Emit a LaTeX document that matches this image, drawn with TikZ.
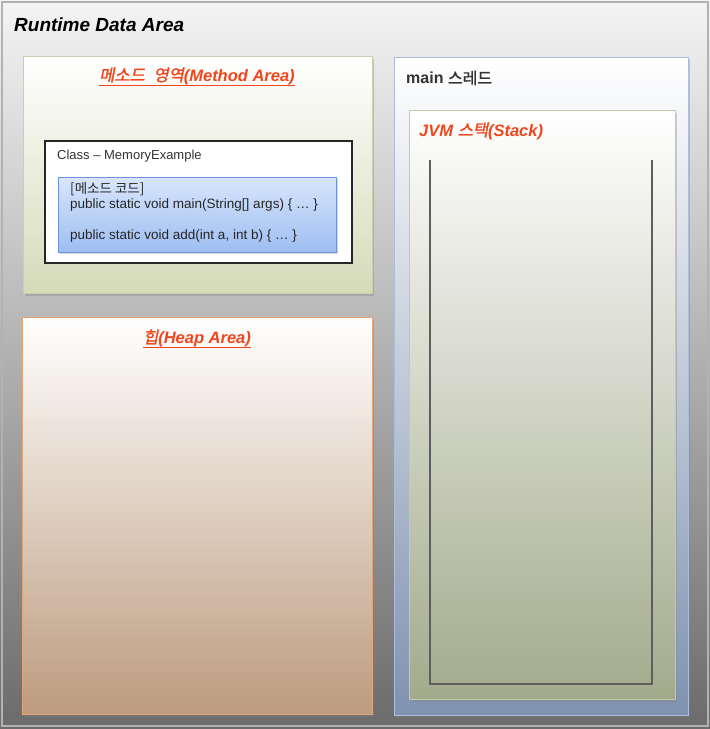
\documentclass[tikz,border=0pt]{standalone}
\usepackage{fontspec}
\setmainfont{Liberation Sans}
\newfontfamily\kr{Noto Sans CJK KR}[AutoFakeSlant=0.2,AutoFakeBold=1.5]
\usetikzlibrary{shadows}
\definecolor{bgtop}{HTML}{F4F4F4}
\definecolor{bgmid}{HTML}{CDCDCD}
\definecolor{bgbot}{HTML}{6B6B6B}
\definecolor{titlered}{HTML}{F0461E}
\definecolor{olivebot}{HTML}{D4DBB8}
\definecolor{oliveline}{HTML}{C9D0AC}
\definecolor{heapmid}{HTML}{F1E2D6}
\definecolor{heapbot}{HTML}{BC9B7E}
\definecolor{heapline}{HTML}{E7A272}
\definecolor{mainmid}{HTML}{E4EAF3}
\definecolor{mainbot}{HTML}{7F92B0}
\definecolor{mainline}{HTML}{A9BEDC}
\definecolor{jvmmid}{HTML}{DDE1CD}
\definecolor{jvmbot}{HTML}{A3AA8C}
\definecolor{jvmline}{HTML}{C4C9A6}
\definecolor{codetop}{HTML}{D8E6FC}
\definecolor{codebot}{HTML}{9DBDF1}
\definecolor{codeline}{HTML}{6E93D6}
\definecolor{ushape}{HTML}{5E5E5E}
\tikzset{
  area/.style={rectangle, anchor=north west, inner sep=0pt, line width=1.2pt,
    drop shadow={opacity=0.35, shadow xshift=1.5pt, shadow yshift=-2pt}},
  redtitle/.style={text=titlered, inner sep=0pt, font=\fontsize{16.5}{18}\selectfont\bfseries\itshape},
  codetext/.style={inner sep=0pt, anchor=north west, align=left, text=black!85,
    font=\fontsize{13.5}{15.5}\selectfont},
}
\begin{document}
\begin{tikzpicture}[x=1pt,y=-1pt]
\useasboundingbox (0,0) rectangle (710,729);
% background
\shade[top color=bgtop, middle color=bgmid, bottom color=bgbot] (0,0) rectangle (710,729);
\draw[gray!60, line width=1.5pt] (2,2) rectangle (708,726);
\node[anchor=west, inner sep=0pt, font=\fontsize{19}{21}\selectfont\bfseries\itshape] (rda) at (14,25) {Runtime Data Area};

% Method area
\node[area, draw=oliveline, top color=white, bottom color=olivebot,
  minimum width=349pt, minimum height=237pt] (method) at (23,56) {};
\node[redtitle] (methodt) at (197,76) {{\kr 메소드\hspace{5pt} 영역}(Method Area)};
\draw[titlered, line width=0.8pt] ([yshift=-1pt]methodt.south west) -- ([yshift=-1pt]methodt.south east);

% Class box
\node[rectangle, anchor=north west, inner sep=0pt, draw=black!85, line width=1.6pt, fill=white,
  minimum width=307pt, minimum height=122pt] (class) at (44,140) {};
\node[anchor=west, inner sep=0pt, text=black!80, font=\fontsize{13}{15}\selectfont] (classt) at (57,156) {Class – MemoryExample};

% Code box
\node[rectangle, anchor=north west, inner sep=0pt, draw=codeline, line width=1pt,
  top color=codetop, bottom color=codebot,
  drop shadow={opacity=0.3, shadow xshift=1pt, shadow yshift=-1.5pt},
  minimum width=278pt, minimum height=75pt] (code) at (58,177) {};
\node[codetext] (codet) at (70,182) {{\kr [메소드 코드]}\\public static void main(String[] args) \{ … \}\\[15.5pt]public static void add(int a, int b) \{ … \}};

% Heap
\node[area, draw=heapline, top color=white, middle color=heapmid, bottom color=heapbot,
  minimum width=350pt, minimum height=397pt] (heap) at (22,317) {};
\node[redtitle] (heapt) at (197,338) {{\kr 힙}(Heap Area)};
\draw[titlered, line width=0.8pt] ([yshift=-1pt]heapt.south west) -- ([yshift=-1pt]heapt.south east);

% main thread
\node[area, draw=mainline, top color=white, middle color=mainmid, bottom color=mainbot,
  minimum width=294pt, minimum height=658pt] (main) at (394,57) {};
\node[anchor=west, inner sep=0pt, text=black!80, font=\fontsize{16}{18}\selectfont\bfseries] (maint) at (406,78) {main {\kr 스레드}};

% JVM stack
\node[area, draw=jvmline, top color=white, middle color=jvmmid, bottom color=jvmbot,
  minimum width=266pt, minimum height=589pt] (jvm) at (409,110) {};
\node[redtitle, anchor=west] (jvmt) at (419,131) {JVM {\kr 스택}(Stack)};

% stack frame (open top)
\coordinate (utl) at (430,160);
\coordinate (ubl) at (430,684);
\coordinate (ubr) at (652,684);
\coordinate (utr) at (652,160);
\draw[ushape, line width=1.8pt] (utl) -- (ubl) -- (ubr) -- (utr);
\end{tikzpicture}
\end{document}
